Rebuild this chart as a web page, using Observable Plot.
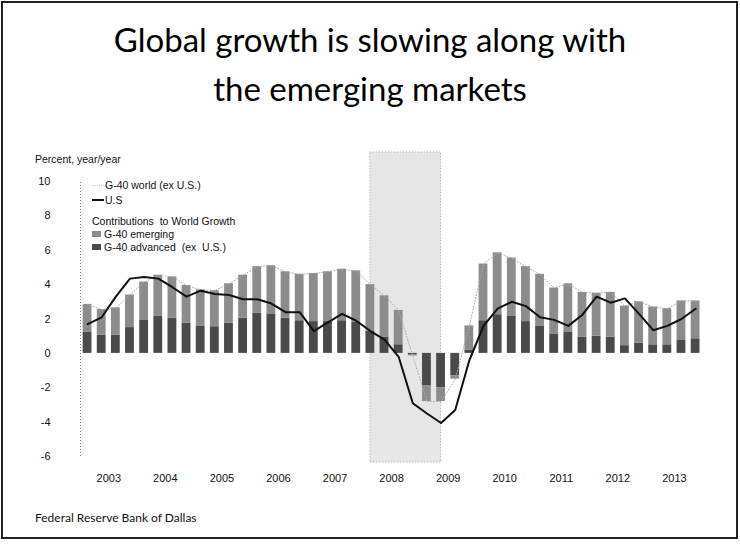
<!DOCTYPE html>
<html><head><meta charset="utf-8">
<script src="https://cdn.jsdelivr.net/npm/d3@7"></script>
<script src="https://cdn.jsdelivr.net/npm/@observablehq/plot@0.6"></script>
<style>
body{margin:0;background:#fff;width:740px;height:552px;position:relative;overflow:hidden;font-family:"Liberation Sans",Arial,sans-serif;color:#111;}
#frame{position:absolute;left:1px;top:1px;width:733px;height:534px;border:2px solid #222;}
#title{position:absolute;left:0;top:15px;width:740px;text-align:center;font-family:Lato,"Open Sans",sans-serif;font-size:33px;line-height:49px;color:#000;}
#unit{position:absolute;left:35px;top:153px;font-size:10.5px;}
#chart{position:absolute;left:0;top:140px;}
.lg{position:absolute;font-size:10.5px;white-space:nowrap;line-height:12px;}
.sw{display:inline-block;width:9px;height:6px;margin-right:3px;vertical-align:1px;}
.ln{display:inline-block;width:12px;height:0;border-top:2px solid #111;margin-right:1px;vertical-align:3px;}
.dl{display:inline-block;width:12px;height:0;border-top:1px dotted #ccc;margin-right:1px;vertical-align:3px;}
#source{position:absolute;left:35px;top:510px;font-family:Lato,"Open Sans",sans-serif;font-size:12px;}
</style></head>
<body>
<div id="frame"></div>
<div id="title">Global growth is slowing along with<br>the emerging markets</div>
<div id="unit">Percent, year/year</div>
<div id="chart"></div>
<div class="lg" style="left:92px;top:179px;"><span class="dl"></span>G-40 world (ex U.S.)</div>
<div class="lg" style="left:92px;top:194px;"><span class="ln"></span>U.S</div>
<div class="lg" style="left:92px;top:215px;">Contributions&nbsp; to World Growth</div>
<div class="lg" style="left:92px;top:228px;"><span class="sw" style="background:#8c8c8c"></span>G-40 emerging</div>
<div class="lg" style="left:92px;top:241px;"><span class="sw" style="background:#4a4a4a"></span>G-40 advanced&nbsp; (ex&nbsp; U.S.)</div>
<div id="source">Federal Reserve Bank of Dallas</div>
<script>
// ---- data ----
const years = [2003, 2004, 2005, 2006, 2007, 2008, 2009, 2010, 2011, 2012, 2013];
const quarters = ["Q1", "Q2", "Q3", "Q4"];
// G-40 world (ex U.S.), percent year/year
const world = [2.85, 2.55, 2.65, 3.4, 4.15, 4.55, 4.45, 3.95, 3.7, 3.65, 4.05, 4.55,
  5.05, 5.1, 4.75, 4.6, 4.65, 4.75, 4.9, 4.8, 4.0, 3.35, 2.5, -0.15,
  -2.8, -2.8, -1.5, 1.6, 5.2, 5.85, 5.55, 5.05, 4.6, 3.8, 4.05, 3.55,
  3.5, 3.55, 2.75, 3.0, 2.7, 2.6, 3.05, 3.05];
// contributions to world growth
const emerging = [1.6, 1.5, 1.6, 1.9, 2.2, 2.4, 2.4, 2.2, 2.1, 2.1, 2.3, 2.5,
  2.7, 2.8, 2.7, 2.7, 2.8, 2.9, 3.0, 3.0, 2.7, 2.4, 2.0, -0.05,
  -0.9, -0.8, -0.2, 1.4, 3.3, 3.6, 3.4, 3.2, 3.0, 2.7, 2.8, 2.6,
  2.5, 2.6, 2.3, 2.4, 2.2, 2.1, 2.3, 2.2];
const advanced = [1.25, 1.05, 1.05, 1.5, 1.95, 2.15, 2.05, 1.75, 1.6, 1.55, 1.75, 2.05,
  2.35, 2.3, 2.05, 1.9, 1.85, 1.85, 1.9, 1.8, 1.3, 0.95, 0.5, -0.1,
  -1.9, -2.0, -1.3, 0.2, 1.9, 2.25, 2.15, 1.85, 1.6, 1.1, 1.25, 0.95,
  1.0, 0.95, 0.45, 0.6, 0.5, 0.5, 0.75, 0.85];
// U.S.
const us = [1.7, 2.1, 3.3, 4.35, 4.45, 4.35, 3.85, 3.3, 3.65, 3.45, 3.4, 3.15,
  3.15, 2.9, 2.4, 2.4, 1.3, 1.8, 2.3, 1.9, 1.3, 0.8, -0.2, -2.9,
  -3.5, -4.05, -3.3, -0.4, 1.6, 2.6, 3.0, 2.75, 2.1, 1.95, 1.6, 2.25,
  3.3, 2.95, 3.2, 2.3, 1.35, 1.6, 2.0, 2.6];
const yTicks = [10, 8, 6, 4, 2, 0, -2, -4, -6];
const recession = {from: "2008Q1", to: "2009Q2"};

// ---- build tables ----
const qTime = (y, q) => y + q / 4 + 0.125;
const rows = [];
years.forEach((y, yi) => quarters.forEach((q, qi) => {
  const i = yi * 4 + qi;
  if (i < world.length) rows.push({t: qTime(y, qi), world: world[i], us: us[i], adv: advanced[i], emg: emerging[i]});
}));
const stack = [];
for (const r of rows) {
  let pos = 0, neg = 0;
  for (const [series, v] of [["G-40 advanced (ex U.S.)", r.adv], ["G-40 emerging", r.emg]]) {
    let y1, y2;
    if (v >= 0) { y1 = pos; y2 = pos + v; pos = y2; } else { y1 = neg; y2 = neg + v; neg = y2; }
    stack.push({t: r.t, series, y1, y2});
  }
}
const parseQ = s => qTime(+s.slice(0, 4), +s.slice(5) - 1);
const rec = [{x1: parseQ(recession.from), x2: parseQ(recession.to)}];
const hw = 0.078;

const chart = Plot.plot({
  width: 740, height: 355,
  marginLeft: 80, marginRight: 35, marginTop: 12, marginBottom: 33,
  style: {fontFamily: "'Liberation Sans', Arial, sans-serif", fontSize: "11px", color: "#111", background: "transparent"},
  x: {domain: [2003, 2014.05]},
  y: {domain: [-6.35, 11.69]},
  color: {domain: ["G-40 advanced (ex U.S.)", "G-40 emerging"], range: ["#4a4a4a", "#8c8c8c"]},
  marks: [
    Plot.rect(rec, {x1: "x1", x2: "x2", fill: "#e6e6e6", stroke: "#a0a0a0", strokeWidth: 1, strokeDasharray: "1,2"}),
    Plot.ruleX([2003], {y1: d3.min(yTicks), y2: d3.max(yTicks), stroke: "#777", strokeDasharray: "1,2"}),
    Plot.rect(stack, {x1: d => d.t - hw, x2: d => d.t + hw, y1: "y1", y2: "y2", fill: "series"}),
    Plot.line(rows, {x: "t", y: "world", stroke: "#aaa", strokeWidth: 1, strokeDasharray: "1,2"}),
    Plot.line(rows, {x: "t", y: "us", stroke: "#111", strokeWidth: 2}),
    Plot.axisY({ticks: yTicks, tickSize: 0, tickPadding: 30, tickFormat: d => String(d)}),
    Plot.axisX({ticks: years.map(y => y + 0.5), tickSize: 0, tickPadding: 12, tickFormat: d => String(Math.floor(d))})
  ]
});
document.getElementById("chart").appendChild(chart);
</script>
</body></html>
